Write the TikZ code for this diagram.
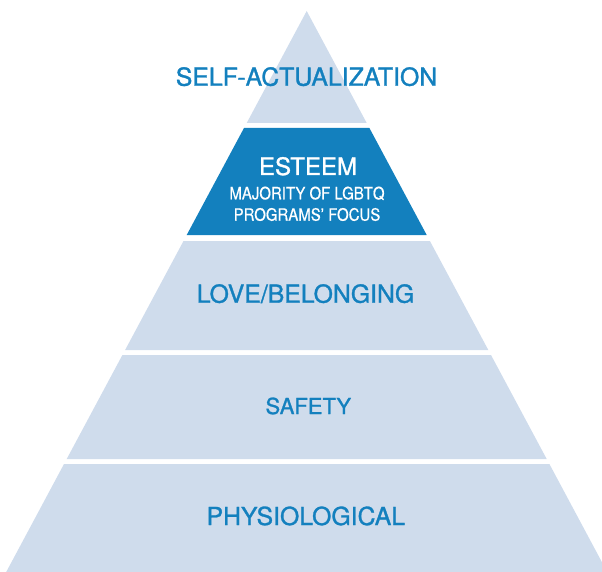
\documentclass[tikz,border=0pt]{standalone}
\usepackage{fontspec}
\setmainfont{TeX Gyre Heros}
\newfontfamily\medfont[FakeBold=1.2]{TeX Gyre Heros}
\newfontfamily\condfont[FakeStretch=0.88,FakeBold=0.6]{TeX Gyre Heros}
\definecolor{paleblue}{RGB}{207,220,236}
\definecolor{deepblue}{RGB}{19,128,190}

\begin{document}
\begin{tikzpicture}[x=1pt,y=1pt]
\tikzstyle{every node}+=[inner sep=0pt, anchor=base]
\tikzstyle{level}=[fill=paleblue]
\tikzstyle{label}=[text=deepblue, font=\medfont\fontsize{24.8}{28}\selectfont]
\useasboundingbox (0,0) rectangle (602,-572);
\clip (0,0) rectangle (602,-572);
% the five bands, top to bottom
\fill [level] (306.7,-11) -- (366.7,-123) -- (246.7,-123) -- cycle;
\fill [deepblue] (244.0,-128) -- (369.4,-128) -- (426.7,-235) -- (186.7,-235) -- cycle;
\fill [level] (183.5,-241) -- (429.9,-241) -- (488.3,-350) -- (125.1,-350) -- cycle;
\fill [level] (122.4,-355) -- (491.0,-355) -- (546.7,-459) -- (66.7,-459) -- cycle;
\fill [level] (64.0,-464) -- (549.4,-464) -- (607.2,-572) -- (6.2,-572) -- cycle;
% labels
\node [label] (selfact) at (306.5,-85.7) {SELF-ACTUALIZATION};
\node [label, text=white, font=\medfont\fontsize{24}{28}\selectfont] (esteem) at (308,-175) {ESTEEM};
\node [text=white, font=\condfont\fontsize{17}{20}\selectfont] (focus1) at (307,-199.3) {MAJORITY OF LGBTQ};
\node [text=white, font=\condfont\fontsize{17}{20}\selectfont] (focus2) at (307,-220.7) {PROGRAMS’ FOCUS};
\node [label] (love) at (305.5,-302.7) {LOVE/BELONGING};
\node [label, font=\medfont\fontsize{22}{26}\selectfont] (safety) at (308.3,-414) {SAFETY};
\node [label] (physio) at (305.8,-525) {PHYSIOLOGICAL};
\end{tikzpicture}
\end{document}
